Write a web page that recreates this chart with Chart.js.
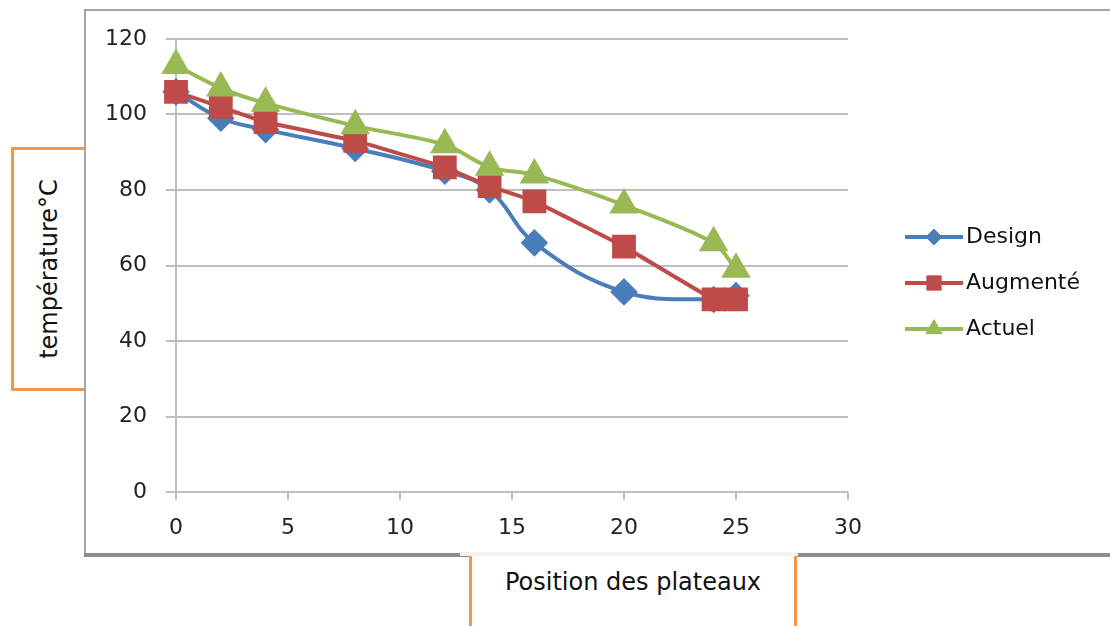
<!DOCTYPE html>
<html>
<head>
<meta charset="utf-8">
<script src="https://cdn.jsdelivr.net/npm/chart.js@4"></script>
<style>
  body { margin: 0; background: #fff; }
  #wrap { position: relative; width: 1110px; height: 626px; overflow: hidden; }
  #chart { position: absolute; left: 0; top: 0; z-index: 2; }
  .frameTop { position: absolute; left: 85px; top: 9px; width: 1025px; height: 0; border-top: 2px solid #a6a6a6; z-index: 1; }
  .frameLeft { position: absolute; left: 84px; top: 9px; width: 0; height: 548px; border-left: 2px solid #a6a6a6; z-index: 1; }
  .frameBottom { position: absolute; left: 84px; top: 553px; width: 1026px; height: 4px; background: #8c8c8c; z-index: 1; }
  .gap { position: absolute; left: 460px; top: 552px; width: 338px; height: 4px; background: #f2f2f2; z-index: 3; }
  .ybox { position: absolute; left: 11px; top: 147px; width: 70px; height: 238px; border: 3px solid #f79646; border-right: none; background: #fff; z-index: 3; }
  .ybox span { position: absolute; left: 50%; top: 50%; transform: translate(-50%, -50%) rotate(-90deg); white-space: nowrap; font-family: "DejaVu Sans"; font-size: 24px; color: #111; }
  .xbox { position: absolute; left: 469px; top: 556px; width: 322px; height: 75px; border: 3px solid #f79646; border-top: none; background: #fff; z-index: 3; }
  .xbox span { position: absolute; left: 0; right: 0; top: 12px; text-align: center; font-family: "DejaVu Sans"; font-size: 24px; color: #111; }
</style>
</head>
<body>
<div id="wrap">
  <div class="frameTop"></div>
  <div class="frameLeft"></div>
  <div class="frameBottom"></div>
  <canvas id="chart" width="1110" height="626"></canvas>
  <div class="gap"></div>
  <div class="ybox"><span>température°C</span></div>
  <div class="xbox"><span>Position des plateaux</span></div>
</div>
<script>
const positions = [0, 2, 4, 8, 12, 14, 16, 20, 24, 25];
const designValues = [106, 99, 96, 91, 85, 80, 66, 53, 51, 52];
const augmenteValues = [106, 102, 98, 93, 86, 81, 77, 65, 51, 51];
const actuelValues = [113, 107, 103, 97, 92, 86, 84, 76, 66, 59];
const seriesNames = ["Design", "Augmenté", "Actuel"];

function toPoints(vals) {
  return positions.map((p, i) => ({ x: p, y: vals[i] }));
}

// legend with line + marker, like the spreadsheet one
const sideLegend = {
  id: "sideLegend",
  afterDraw(chart) {
    const ctx = chart.ctx;
    const x0 = 905, x1 = 963;
    const rows = [237, 283, 329];
    chart.data.datasets.forEach((ds, i) => {
      const y = rows[i];
      ctx.save();
      ctx.strokeStyle = ds.borderColor;
      ctx.lineWidth = 4;
      ctx.beginPath();
      ctx.moveTo(x0, y);
      ctx.lineTo(x1, y);
      ctx.stroke();
      ctx.fillStyle = ds.pointBackgroundColor;
      ctx.strokeStyle = ds.pointBackgroundColor;
      ctx.lineWidth = 1;
      Chart.helpers.drawPoint(ctx, { pointStyle: ds.pointStyle, radius: ds.pointRadius * 0.72, borderWidth: 1 }, (x0 + x1) / 2, y);
      ctx.fillStyle = "#111";
      ctx.font = "22px 'DejaVu Sans'";
      ctx.textBaseline = "middle";
      ctx.fillText(ds.label, x1 + 3, y);
      ctx.restore();
    });
  },
};

const ctx = document.getElementById("chart").getContext("2d");
const myChart = new Chart(ctx, {
  type: "line",
  data: {
    datasets: [
      {
        label: seriesNames[0],
        data: toPoints(designValues),
        borderColor: "#4a7ebb",
        pointBackgroundColor: "#4a7ebb",
        pointBorderColor: "#4a7ebb",
        pointStyle: "rectRot",
        pointRadius: 11,
        borderWidth: 4,
        tension: 0.4,
        clip: false,
        order: 3,
      },
      {
        label: seriesNames[1],
        data: toPoints(augmenteValues),
        borderColor: "#be4b48",
        pointBackgroundColor: "#be4b48",
        pointBorderColor: "#be4b48",
        pointStyle: "rect",
        pointRadius: 14,
        borderWidth: 4,
        tension: 0.1,
        clip: false,
        order: 2,
      },
      {
        label: seriesNames[2],
        data: toPoints(actuelValues),
        borderColor: "#98b954",
        pointBackgroundColor: "#98b954",
        pointBorderColor: "#98b954",
        pointStyle: "triangle",
        pointRadius: 13,
        borderWidth: 4,
        tension: 0.3,
        clip: false,
        order: 1,
      },
    ],
  },
  options: {
    responsive: false,
    animation: false,
    layout: {
      padding: { top: 39, right: 262, left: 0, bottom: 0 },
    },
    plugins: {
      legend: { display: false },
      tooltip: { enabled: false },
    },
    scales: {
      x: {
        type: "linear",
        min: 0,
        max: 30,
        afterFit: (scale) => { scale.height = 134; },
        ticks: {
          stepSize: 5,
          padding: 15,
          color: "#222",
          font: { family: "DejaVu Sans", size: 22 },
        },
        grid: {
          drawOnChartArea: false,
          tickLength: 8,
          color: "#bfbfbf",
          lineWidth: 2,
        },
        border: { display: false },
      },
      y: {
        min: 0,
        max: 120,
        afterFit: (scale) => { scale.width = 176; },
        ticks: {
          stepSize: 20,
          padding: 19,
          color: "#222",
          font: { family: "DejaVu Sans", size: 22 },
        },
        grid: {
          color: "#bfbfbf",
          lineWidth: 2,
          tickLength: 10,
        },
        border: { color: "#bfbfbf", width: 2 },
      },
    },
  },
  plugins: [sideLegend],
});
</script>
</body>
</html>
